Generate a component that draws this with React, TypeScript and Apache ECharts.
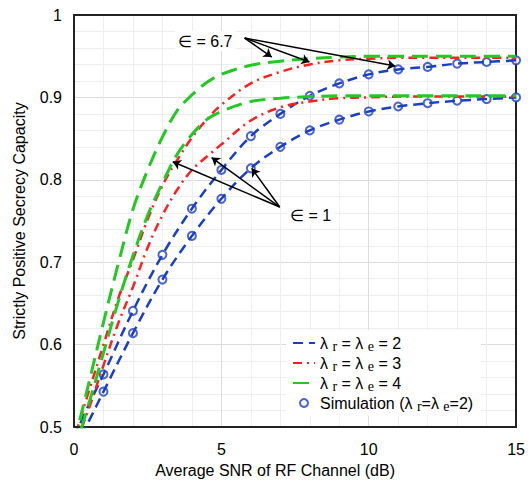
import React, { useEffect, useRef } from "react";
import * as echarts from "echarts";

// x positions (dB) for the analytic curves
const X_LINE = [0, 0.5, 1, 1.5, 2, 2.5, 3, 3.5, 4, 4.5, 5, 6, 7, 8, 9, 10, 11, 12, 13, 14, 15];
const X_BLUE = [0, 0.5, 1, 2, 3, 4, 5, 6, 7, 8, 9, 10, 11, 12, 13, 14, 15];
const X_SIM = [1, 2, 3, 4, 5, 6, 7, 8, 9, 10, 11, 12, 13, 14, 15];

// λr = λe = 4 (green)
const green67 = [0.48, 0.553, 0.627, 0.698, 0.764, 0.812, 0.852, 0.884, 0.903, 0.918, 0.928, 0.939, 0.944, 0.947, 0.949, 0.95, 0.95, 0.95, 0.95, 0.95, 0.95];
const green1 = [0.47, 0.528, 0.59, 0.652, 0.708, 0.757, 0.796, 0.831, 0.855, 0.873, 0.883, 0.895, 0.899, 0.901, 0.902, 0.902, 0.902, 0.902, 0.902, 0.902, 0.902];
// λr = λe = 3 (red)
const red67 = [0.485, 0.543, 0.6, 0.656, 0.703, 0.752, 0.793, 0.824, 0.851, 0.873, 0.891, 0.917, 0.931, 0.94, 0.945, 0.947, 0.948, 0.948, 0.948, 0.948, 0.948];
const red1 = [0.475, 0.522, 0.575, 0.626, 0.67, 0.718, 0.757, 0.788, 0.812, 0.828, 0.843, 0.872, 0.888, 0.895, 0.899, 0.9, 0.901, 0.901, 0.901, 0.901, 0.901];
// λr = λe = 2 (blue)
const blue67 = [0.487, 0.527, 0.564, 0.641, 0.709, 0.765, 0.812, 0.853, 0.88, 0.902, 0.917, 0.928, 0.934, 0.937, 0.941, 0.943, 0.945];
const blue1 = [0.472, 0.507, 0.543, 0.614, 0.679, 0.732, 0.777, 0.814, 0.84, 0.86, 0.873, 0.883, 0.889, 0.893, 0.896, 0.898, 0.9];
// simulation (λr = λe = 2)
const sim67 = [0.564, 0.641, 0.709, 0.765, 0.812, 0.853, 0.88, 0.902, 0.917, 0.928, 0.934, 0.937, 0.941, 0.943, 0.945];
const sim1 = [0.543, 0.614, 0.679, 0.732, 0.777, 0.814, 0.84, 0.86, 0.873, 0.883, 0.889, 0.893, 0.896, 0.898, 0.9];

// annotation arrows (data coordinates)
const ARROWS_67_FROM = [5.79, 0.972];
const ARROWS_67_TO = [[6.71, 0.949], [7.99, 0.943], [10.9, 0.938]];
const ARROWS_1_FROM = [6.98, 0.767];
const ARROWS_1_TO = [[3.35, 0.822], [4.67, 0.827], [6.03, 0.814]];

const LEGEND_TEXT: Record<string, string> = {
  L2: "{t|λ }{s|r}{t| = λ }{s|e}{t| = 2}",
  L3: "{t|λ }{s|r}{t| = λ }{s|e}{t| = 3}",
  L4: "{t|λ }{s|r}{t| = λ }{s|e}{t| = 4}",
  SIM: "{t|Simulation (λ }{s|r}{t|=λ }{s|e}{t|=2)}",
};

const FONT = 'Arial, "Liberation Sans", sans-serif';
const BLUE = "#1a3ec6";
const RED = "#ff1f1f";
const GREEN = "#22c922";

const zip = (xs: number[], ys: number[]) => xs.map((x, i) => [x, ys[i]]);

export default function App() {
  const ref = useRef<HTMLDivElement>(null);
  useEffect(() => {
    document.body.style.margin = "0";
    const chart = echarts.init(ref.current!, null, { renderer: "svg" });
    const lineSeries = (name: string, xs: number[], ys: number[], color: string, dash: number[], width: number) => ({
      type: "line",
      name,
      data: zip(xs, ys),
      smooth: 0.35,
      showSymbol: false,
      symbol: "none",
      clip: true,
      z: 3,
      lineStyle: { color, width, type: dash },
      itemStyle: { color },
    });
    const hidden = { color: "rgba(0,0,0,0)", borderColor: "rgba(0,0,0,0)", borderWidth: 0, opacity: 0 };
    chart.setOption({
      animation: false,
      textStyle: { fontFamily: FONT },
      grid: { left: 74, top: 15, width: 443, height: 422, show: false },
      xAxis: [
        {
          type: "value",
          min: 0,
          max: 15,
          interval: 5,
          name: "Average SNR of RF Channel (dB)",
          nameLocation: "middle",
          nameGap: 31,
          nameTextStyle: { fontSize: 16, color: "#000", fontFamily: FONT, padding: [0, 40, 0, 0] },
          axisLine: { show: true, lineStyle: { color: "#222", width: 2 } },
          axisTick: { show: false },
          axisLabel: { fontSize: 16, color: "#000", margin: 14, fontFamily: FONT },
          splitLine: { show: true, showMinLine: false, showMaxLine: false, lineStyle: { color: "#dcdcdc", width: 1 } },
          minorTick: { show: false, splitNumber: 5 },
          minorSplitLine: { show: true, lineStyle: { color: "#eeeeee", width: 1 } },
        },
        {
          type: "value",
          position: "top",
          min: 0,
          max: 15,
          interval: 5,
          axisLine: { show: true, onZero: false, lineStyle: { color: "#222", width: 2 } },
          axisTick: { show: false },
          axisLabel: { show: false },
          splitLine: { show: false },
        },
      ],
      yAxis: [
        {
          type: "value",
          min: 0.5,
          max: 1,
          interval: 0.1,
          name: "Strictly Positive Secrecy Capacity",
          nameLocation: "middle",
          nameGap: 47,
          nameTextStyle: { fontSize: 16, color: "#000", fontFamily: FONT },
          axisLine: { show: true, lineStyle: { color: "#222", width: 2 } },
          axisTick: { show: false },
          axisLabel: {
            fontSize: 16,
            color: "#000",
            margin: 12,
            fontFamily: FONT,
            formatter: (v: number) => String(Math.round(v * 10) / 10),
          },
          splitLine: { show: true, showMinLine: false, showMaxLine: false, lineStyle: { color: "#dcdcdc", width: 1 } },
          minorTick: { show: false, splitNumber: 5 },
          minorSplitLine: { show: true, lineStyle: { color: "#eeeeee", width: 1 } },
        },
        {
          type: "value",
          position: "right",
          min: 0.5,
          max: 1,
          interval: 0.1,
          axisLine: { show: true, onZero: false, lineStyle: { color: "#222", width: 2 } },
          axisTick: { show: false },
          axisLabel: { show: false },
          splitLine: { show: false },
        },
      ],
      legend: {
        data: [
          { name: "L2", itemStyle: hidden },
          { name: "L3", itemStyle: hidden },
          { name: "L4", itemStyle: hidden },
          { name: "SIM" },
        ],
        orient: "vertical",
        left: 286,
        top: 330,
        itemWidth: 22,
        itemHeight: 8,
        itemGap: 0,
        backgroundColor: "#ffffff",
        padding: [3, 8, 3, 6],
        formatter: (n: string) => LEGEND_TEXT[n],
        textStyle: {
          color: "#000",
          rich: {
            t: { fontSize: 16, lineHeight: 18, fontFamily: FONT, color: "#000" },
            s: { fontSize: 14, lineHeight: 14, fontFamily: '"Liberation Serif", "Times New Roman", serif', color: "#000", padding: [6, 0, 0, 0] },
          },
        },
      },
      series: [
        {
          type: "scatter",
          name: "SIM",
          data: [...zip(X_SIM, sim67), ...zip(X_SIM, sim1)],
          symbol: "emptyCircle",
          symbolSize: 8,
          z: 2,
          itemStyle: { color: BLUE, borderColor: BLUE, borderWidth: 2 },
        },
        lineSeries("L2", X_BLUE, blue67, BLUE, [10, 6], 2.5),
        lineSeries("L2", X_BLUE, blue1, BLUE, [10, 6], 2.5),
        lineSeries("L3", X_LINE, red67, RED, [9, 5, 2, 5], 2.5),
        lineSeries("L3", X_LINE, red1, RED, [9, 5, 2, 5], 2.5),
        lineSeries("L4", X_LINE, green67, GREEN, [16, 8], 3),
        lineSeries("L4", X_LINE, green1, GREEN, [16, 8], 3),
        {
          type: "lines",
          name: "arrows",
          coordinateSystem: "cartesian2d",
          z: 6,
          symbol: ["none", "arrow"],
          symbolSize: 8,
          lineStyle: { color: "#000", width: 1.5, opacity: 1, curveness: 0 },
          data: [
            ...ARROWS_67_TO.map((t) => ({ coords: [ARROWS_67_FROM, t] })),
            ...ARROWS_1_TO.map((t) => ({ coords: [ARROWS_1_FROM, t] })),
          ],
        },
      ],
      graphic: [
        {
          type: "text",
          left: 175,
          top: 31,
          z: 100,
          style: { text: "∈ = 6.7", font: `16px ${FONT}`, fill: "#000", backgroundColor: "#fff", padding: [2, 3, 2, 3] },
        },
        {
          type: "text",
          left: 287,
          top: 205,
          z: 100,
          style: { text: "∈ = 1", font: `16px ${FONT}`, fill: "#000", backgroundColor: "#fff", padding: [2, 3, 2, 3] },
        },
      ],
    });
    return () => chart.dispose();
  }, []);
  return <div ref={ref} style={{ width: 528, height: 483 }} />;
}
